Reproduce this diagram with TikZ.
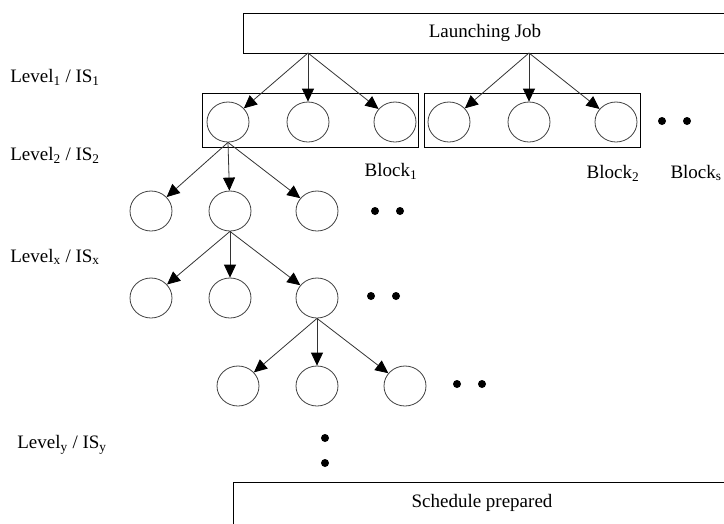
\documentclass[tikz,border=0pt]{standalone}
\usepackage{fontspec}
\setmainfont{Liberation Serif}
\usetikzlibrary{arrows.meta,shapes.geometric}
\begin{document}
\begin{tikzpicture}[x=1pt,y=-1pt,
  font=\fontsize{19}{22}\selectfont,
  every path/.style={line width=0.8pt},
  job/.style={draw, rectangle, inner sep=0pt},
  blockbox/.style={draw, rectangle, minimum width=216pt, minimum height=54pt, inner sep=0pt},
  task/.style={draw=black!75, ellipse, minimum width=42pt, minimum height=40pt, inner sep=0pt},
  dot/.style={fill, circle, minimum size=8pt, inner sep=0pt},
  edge/.style={draw=black!80, -{Triangle[length=13pt,width=12pt,fill=black,color=black]}},
  lbl/.style={inner sep=0pt}
]
\useasboundingbox (0,0) rectangle (724,523);

% start and end boxes
\node[job, minimum width=484pt, minimum height=40pt] (launch) at (485,33) {Launching Job};
\node[job, minimum width=498pt, minimum height=42pt] (sched) at (482,503) {Schedule prepared};

% blocks of the first level
\node[blockbox] (block1) at (310,120) {};
\node[blockbox] (block2) at (532,120) {};

% first level tasks
\node[task] (a1) at (228,122) {};
\node[task] (a2) at (308,122) {};
\node[task] (a3) at (395,122) {};
\node[task] (b1) at (449,122) {};
\node[task] (b2) at (529,122) {};
\node[task] (b3) at (616,122) {};
\node[dot] (d1a) at (662,121) {};
\node[dot] (d1b) at (687,121) {};

% second level tasks
\node[task] (c1) at (151,211) {};
\node[task] (c2) at (230,211) {};
\node[task] (c3) at (317,211) {};
\node[dot] (d2a) at (375,211) {};
\node[dot] (d2b) at (400,211) {};

% level x tasks
\node[task] (e1) at (151,298) {};
\node[task] (e2) at (230,298) {};
\node[task] (e3) at (317,298) {};
\node[dot] (d3a) at (371,296) {};
\node[dot] (d3b) at (396,296) {};

% next level tasks
\node[task] (f1) at (238,386) {};
\node[task] (f2) at (317,386) {};
\node[task] (f3) at (405,386) {};
\node[dot] (d4a) at (457,384) {};
\node[dot] (d4b) at (482,384) {};

% vertical continuation
\node[dot] (v1) at (325,438) {};
\node[dot] (v2) at (325,463) {};

% fan-out points on the start box
\coordinate (s1) at (308,53);
\coordinate (s2) at (529,53);

% connectors
\foreach \t in {a1,a2,a3} \path[edge] (s1) -- (\t);
\foreach \t in {b1,b2,b3} \path[edge] (s2) -- (\t);
\foreach \t in {c1,c2,c3} \path[edge] (a1.south) -- (\t);
\foreach \t in {e1,e2,e3} \path[edge] (c2.south) -- (\t);
\foreach \t in {f1,f2,f3} \path[edge] (e3.south) -- (\t);

% labels
\node[lbl] (l1) at (55,77) {Level\textsubscript{1} / IS\textsubscript{1}};
\node[lbl] (l2) at (55,155) {Level\textsubscript{2} / IS\textsubscript{2}};
\node[lbl] (lx) at (55,257) {Level\textsubscript{x} / IS\textsubscript{x}};
\node[lbl] (ly) at (62,445) {Level\textsubscript{y} / IS\textsubscript{y}};
\node[lbl] (bl1) at (391,171) {Block\textsubscript{1}};
\node[lbl] (bl2) at (613,173) {Block\textsubscript{2}};
\node[lbl, anchor=east] (bls) at (722,173) {Block\textsubscript{s}};
\end{tikzpicture}
\end{document}
